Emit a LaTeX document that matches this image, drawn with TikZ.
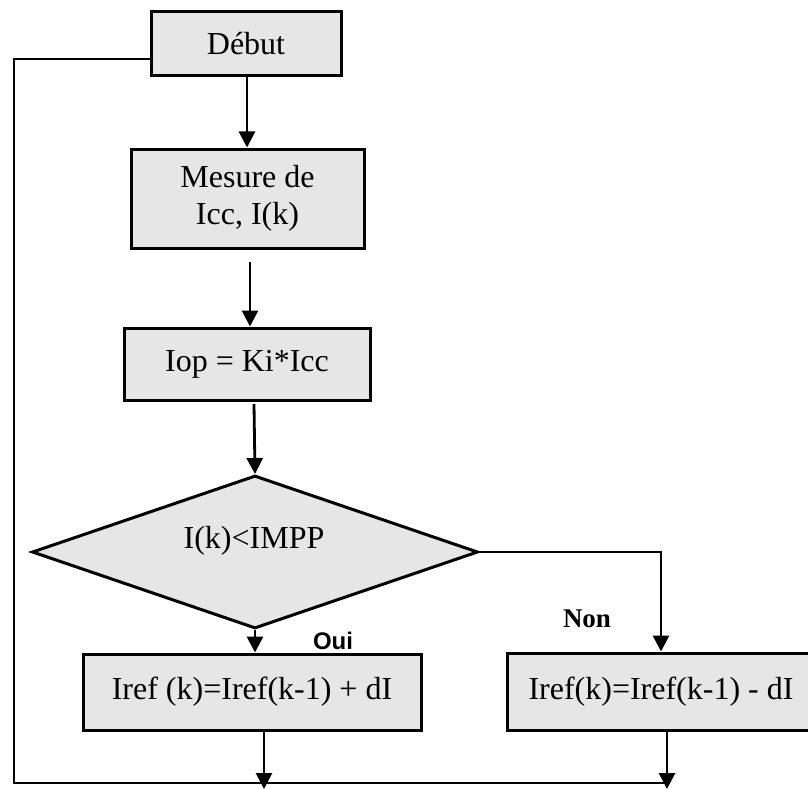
\documentclass[tikz,border=0pt]{standalone}
\usepackage{fontspec}
\setmainfont{Liberation Serif}
\newfontfamily\labelsans{Liberation Sans}
\usetikzlibrary{arrows.meta,shapes.geometric}

\definecolor{boxfill}{HTML}{E6E6E6}

\tikzset{
  procbox/.style={draw=black, fill=boxfill, line width=3pt, inner sep=0pt,
    font=\fontsize{32}{37}\selectfont, align=center},
  decision/.style={draw=black, fill=boxfill, line width=3pt, diamond,
    inner sep=0pt, minimum width=446pt, minimum height=153pt},
  flow/.style={line width=2.8pt, -{Triangle[length=16pt,width=16pt]}},
  plain/.style={line width=2.8pt},
  oui/.style={font=\labelsans\bfseries\fontsize{24}{28}\selectfont},
  non/.style={font=\bfseries\fontsize{27}{32}\selectfont}
}

\begin{document}
\begin{tikzpicture}[x=1pt, y=-1pt]
  \useasboundingbox (0,0) rectangle (808,789);
  \clip (0,0) rectangle (808,789);

  % process boxes
  \node[procbox, minimum width=190pt, minimum height=64pt] (debut) at (246,44) {Début};
  \node[procbox, minimum width=233pt, minimum height=99pt] (mesure) at (247.5,198.5) {Mesure de\\Icc, I(k)};
  \node[procbox, minimum width=246pt, minimum height=72pt] (iop) at (247,364) {Iop = Ki*Icc};

  % decision
  \node[decision] (test) at (255,552) {};
  \node[font=\fontsize{32}{37}\selectfont] (cond) at (254,541) {I(k)<IMPP};

  % the two branches
  \node[procbox, minimum width=338pt, minimum height=76pt] (inc) at (252,692) {Iref (k)=Iref(k-1) + dI};
  \node[procbox, minimum width=308pt, minimum height=77pt] (dec) at (661,691.5) {Iref(k)=Iref(k-1) - dI};

  \node[oui] (ouilbl) at (333,641) {Oui};
  \node[non] (nonlbl) at (587,619) {Non};

  % helper points
  \coordinate (g1) at (250,262);
  \coordinate (g2) at (254,404);
  \coordinate (nonturn) at (661,552);
  \coordinate (incout) at (264,789);
  \coordinate (decout) at (667,789);
  \coordinate (loopa) at (14,59);
  \coordinate (loopb) at (14,783);
  \coordinate (loopc) at (667,783);

  % main flow
  \draw[flow] (debut.south -| 247,0) -- (mesure.north -| 247,0);
  \draw[flow] (g1) -- (iop.north -| g1);
  \draw[flow] (g2) -- (test.north);
  \draw[flow] (test.south) -- (inc.north -| test.south);
  \draw[flow] (test.east) -- (nonturn) -- (dec.north -| nonturn);

  % outputs of the branches
  \draw[flow] (inc.south -| incout) -- (incout);
  \draw[flow] (dec.south -| decout) -- (decout);

  % loop back to the start
  \draw[plain] (debut.west |- loopa) -- (loopa) -- (loopb) -- (loopc);
\end{tikzpicture}
\end{document}
